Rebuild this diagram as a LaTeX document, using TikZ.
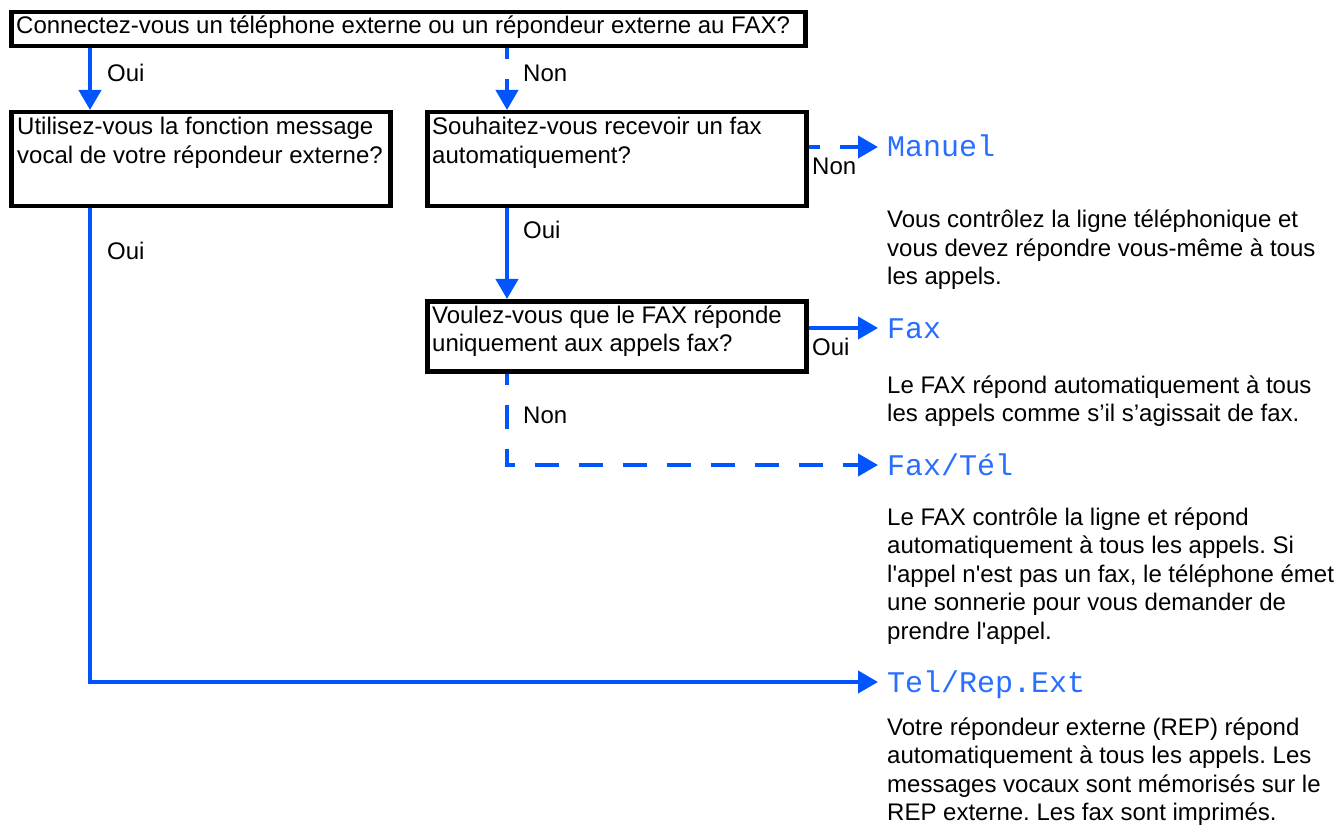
\documentclass[tikz,border=0pt]{standalone}
\usepackage{fontspec}
\setmainfont{Liberation Sans}
\newfontfamily\lcdfont{Liberation Mono}
\usetikzlibrary{arrows.meta}
\definecolor{lineblue}{RGB}{0,85,255}
\definecolor{lcdblue}{RGB}{40,110,255}
\frenchspacing
\tikzset{
  qbox/.style={draw=black, line width=4.5pt, rectangle, inner sep=0pt, anchor=north west},
  qtext/.style={anchor=base west, inner sep=0pt, font=\fontsize{24}{28.5}\selectfont},
  lbl/.style={anchor=base west, inner sep=0pt, font=\fontsize{24}{28.5}\selectfont},
  res/.style={anchor=west, inner xsep=9pt, inner ysep=0pt, text height=22pt, text depth=2pt,
    font=\lcdfont\fontsize{30}{30}\selectfont, text=lcdblue},
  desc/.style={anchor=base west, inner sep=0pt, font=\fontsize{24}{28.5}\selectfont},
  flow/.style={draw=lineblue, line width=4pt, -{Triangle[length=20pt,width=22pt]}},
  flowdash/.style={flow, dash pattern=on 24pt off 20pt, dash phase=13pt}
}
\begin{document}
\begin{tikzpicture}[x=1pt,y=-1pt]
\useasboundingbox (0,0) rectangle (1338,834);
\coordinate (cL) at (90,0);
\coordinate (cM) at (507,0);

% question boxes
\node[qbox, minimum width=794pt, minimum height=34pt] (q1) at (9,10) {};
\node[qtext] (q1t) at (16,34) {Connectez-vous un téléphone externe ou un répondeur externe au FAX?};

\node[qbox, minimum width=379pt, minimum height=94pt] (q2) at (9,110) {};
\node[qtext] (q2t) at (17,135) {\parbox[t]{370pt}{\raggedright Utilisez-vous la fonction message\\vocal de votre répondeur externe?}};

\node[qbox, minimum width=379pt, minimum height=94pt] (q3) at (425,110) {};
\node[qtext] (q3t) at (432,135) {\parbox[t]{370pt}{\raggedright Souhaitez-vous recevoir un fax\\automatiquement?}};

\node[qbox, minimum width=379pt, minimum height=70pt] (q4) at (425,299) {};
\node[qtext] (q4t) at (432,323) {\parbox[t]{370pt}{\raggedright Voulez-vous que le FAX réponde\\uniquement aux appels fax?}};

% results
\node[res] (man) at (878,147) {Manuel};
\node[res] (fax) at (878,328) {Fax};
\node[res] (ft) at (878,465) {Fax/Tél};
\node[res] (tel) at (878,682) {Tel/Rep.Ext};

% descriptions
\node[desc] (d1) at (887,228) {\parbox[t]{450pt}{\raggedright Vous contrôlez la ligne téléphonique et\\vous devez répondre vous-même à tous\\les appels.}};
\node[desc] (d2) at (887,393) {\parbox[t]{450pt}{\raggedright Le FAX répond automatiquement à tous\\les appels comme s’il s’agissait de fax.}};
\node[desc] (d3) at (887,525) {\parbox[t]{450pt}{\raggedright Le FAX contrôle la ligne et répond\\automatiquement à tous les appels. Si\\l\textquotesingle appel n\textquotesingle est pas un fax, le téléphone émet\\une sonnerie pour vous demander de\\prendre l\textquotesingle appel.}};
\node[desc] (d4) at (887,735) {\parbox[t]{450pt}{\raggedright Votre répondeur externe (REP) répond\\automatiquement à tous les appels. Les\\messages vocaux sont mémorisés sur le\\REP externe. Les fax sont imprimés.}};

% connectors
\draw[flow] (q1.south -| cL) -- (q2.north -| cL);
\draw[flowdash] (q1.south -| cM) -- (q3.north -| cM);
\draw[flow] (q3.south -| cM) -- (q4.north -| cM);
\draw[flowdash] (q3.east |- man.west) -- (man.west);
\draw[flow] (q4.east |- fax.west) -- (fax.west);
\draw[flowdash] (q4.south -| cM) |- (ft.west);
\draw[flow] (q2.south -| cL) |- (tel.west);

% labels
\node[lbl] (l1) at (107,82) {Oui};
\node[lbl] (l2) at (523,82) {Non};
\node[lbl] (l3) at (107,260) {Oui};
\node[lbl] (l4) at (523,239) {Oui};
\node[lbl] (l5) at (812,175) {Non};
\node[lbl] (l6) at (812,355) {Oui};
\node[lbl] (l7) at (523,423) {Non};
\end{tikzpicture}
\end{document}
